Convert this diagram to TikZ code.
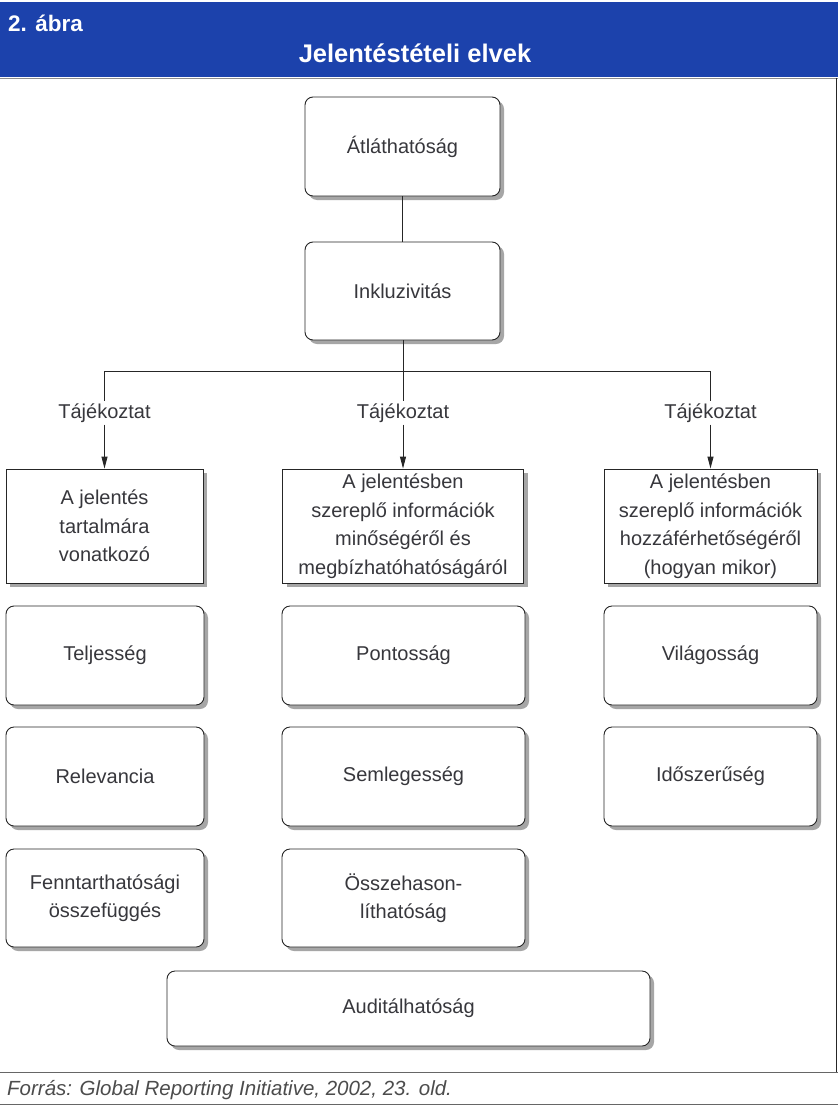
\documentclass[tikz,border=0pt]{standalone}
\usepackage{fontspec}
\setmainfont{Liberation Sans}
\usetikzlibrary{shadows,arrows.meta}
\definecolor{hdrblue}{RGB}{28,66,172}
\definecolor{txtgray}{RGB}{55,55,60}
\tikzset{
  boxfont/.style={font=\fontsize{20}{28.5}\selectfont, text=txtgray},
  rbox/.style={draw=black!85, line width=0.9pt, rounded corners=8pt, fill=white, boxfont, align=center,
    inner sep=0pt, drop shadow={shadow xshift=4pt, shadow yshift=-4pt, fill=black!35, opacity=1}},
  sbox/.style={draw=black!85, line width=0.9pt, fill=white, boxfont, align=center,
    inner sep=0pt, drop shadow={shadow xshift=4pt, shadow yshift=-4pt, fill=black!35, opacity=1}},
  lbl/.style={boxfont, fill=white, inner sep=2pt},
  conn/.style={draw=black!85, line width=0.9pt},
  arr/.style={conn, -{Triangle[length=12pt,width=6pt]}},
}
\begin{document}
\begin{tikzpicture}[x=1pt,y=-1pt]
\useasboundingbox (0,0) rectangle (838,1108);
\fill[white] (0,0) rectangle (838,1108);
% header
\fill[hdrblue] (0,2) rectangle (838,77);
\draw[black!45, line width=1pt] (0,78) -- (838,78);
\node[anchor=base west, text=white, font=\bfseries\fontsize{22.5}{26}\selectfont, inner sep=0pt] (fig) at (8,32) {2. ábra};
\node[anchor=base, text=white, font=\bfseries\fontsize{25.5}{28}\selectfont, inner sep=0pt] (title) at (415,63) {Jelentéstételi elvek};
\draw[black!85, line width=1pt] (836,78) -- (836,1072);
% top boxes
\node[rbox, minimum width=195pt, minimum height=99pt] (atl) at (402.5,146.5) {Átláthatóság};
\node[rbox, minimum width=195pt, minimum height=98pt] (ink) at (402.5,291) {Inkluzivitás};
\draw[conn] (atl) -- (ink);
% category boxes
\node[sbox, minimum width=197pt, minimum height=114pt] (c1) at (104.5,526) {A jelentés\\tartalmára\\vonatkozó};
\node[sbox, minimum width=241pt, minimum height=114pt] (c2) at (403,526) {A jelentésben\\szereplő információk\\minőségéről és\\megbízhatóhatóságáról};
\node[sbox, minimum width=213pt, minimum height=114pt] (c3) at (710.5,526) {A jelentésben\\szereplő információk\\hozzáférhetőségéről\\(hogyan mikor)};
% connectors
\coordinate (j1) at (104.5,371);
\coordinate (j2) at (403,371);
\coordinate (j3) at (710.5,371);
\draw[conn] (ink.south -| j2) -- (j2);
\draw[conn] (j1) -- (j3);
\node[lbl] (t1) at (104.5,413) {Tájékoztat};
\node[lbl] (t2) at (403,413) {Tájékoztat};
\node[lbl] (t3) at (710.5,413) {Tájékoztat};
\draw[conn] (j1) -- (t1);
\draw[conn] (j2) -- (t2);
\draw[conn] (j3) -- (t3);
\draw[arr] (t1) -- (c1);
\draw[arr] (t2) -- (c2);
\draw[arr] (t3) -- (c3);
% principle boxes
\node[rbox, minimum width=198pt, minimum height=99pt] (telj) at (105,655.5) {Teljesség};
\node[rbox, minimum width=198pt, minimum height=99pt] (rel) at (105,776.5) {Relevancia};
\node[rbox, minimum width=198pt, minimum height=98pt] (fenn) at (105,898) {Fenntarthatósági\\összefüggés};
\node[rbox, minimum width=243pt, minimum height=99pt] (pont) at (403.5,655.5) {Pontosság};
\node[rbox, minimum width=243pt, minimum height=99pt] (seml) at (403.5,776.5) {Semlegesség};
\node[rbox, minimum width=243pt, minimum height=98pt] (ossz) at (403.5,898) {Összehason-\\líthatóság};
\node[rbox, minimum width=213pt, minimum height=99pt] (vil) at (710.5,655.5) {Világosság};
\node[rbox, minimum width=213pt, minimum height=99pt] (ido) at (710.5,776.5) {Időszerűség};
\node[rbox, minimum width=483pt, minimum height=75pt] (aud) at (408.5,1008.5) {Auditálhatóság};
% footer
\draw[black!60, line width=1pt] (0,1072) -- (838,1072);
\draw[black!60, line width=1pt] (0,1104) -- (838,1104);
\node[anchor=base west, inner sep=0pt, text=black!70, font=\itshape\fontsize{20.5}{24}\selectfont] (src) at (7,1095) {Forrás: Global Reporting Initiative, 2002, 23. old.};
\end{tikzpicture}
\end{document}
